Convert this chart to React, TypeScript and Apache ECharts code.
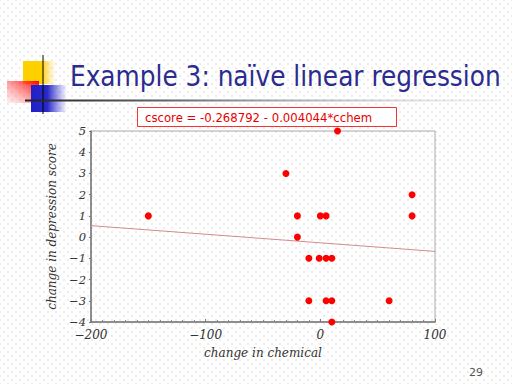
import React, { useEffect, useRef } from "react";
import * as echarts from "echarts";

const titleText = "Example 3: naïve linear regression";
const equationText = "cscore = -0.268792 - 0.004044*cchem";
const xAxisName = "change in chemical";
const yAxisName = "change in depression score";
const pageNumber = "29";

const chemChange = [15, -30, -20, 0, 5, 80, 80, -20, -10, -1, 5, 10, -10, 5, 10, 60, 10, -150];
const scoreChange = [5, 3, 1, 1, 1, 2, 1, 0, -1, -1, -1, -1, -3, -3, -3, -3, -4, 1];

const fitX = [-200, 100];
const fitY = [0.54, -0.673];

const xTicks = [-200, -100, 0, 100];
const yTicks = [-4, -3, -2, -1, 0, 1, 2, 3, 4, 5];

const fmt = (v: number) => (v < 0 ? "\u2212" + Math.abs(v) : String(v));

export default function App() {
  const ref = useRef<HTMLDivElement>(null);
  useEffect(() => {
    if (!ref.current) return;
    const chart = echarts.init(ref.current, undefined, { renderer: "svg" });
    const points = chemChange.map((x, i) => [x, scoreChange[i]]);
    const line = fitX.map((x, i) => [x, fitY[i]]);
    chart.setOption({
      animation: false,
      backgroundColor: "transparent",
      grid: {
        left: 91,
        right: 77,
        top: 131,
        bottom: 62,
        show: true,
        borderColor: "#a8a8a8",
        borderWidth: 1,
        backgroundColor: "transparent",
      },
      xAxis: {
        type: "value",
        min: xTicks[0],
        max: xTicks[xTicks.length - 1],
        interval: 100,
        name: xAxisName,
        nameLocation: "middle",
        nameGap: 25,
        nameTextStyle: {
          fontFamily: "DejaVu Serif",
          fontStyle: "italic",
          fontSize: 12,
          color: "#333",
        },
        axisLine: { show: true, onZero: false, lineStyle: { color: "#777", width: 1.5 } },
        axisTick: { show: true, inside: true, length: 3, lineStyle: { color: "#777" } },
        minorTick: { show: true, splitNumber: 10, length: 2, lineStyle: { color: "#888" } },
        splitLine: { show: false },
        axisLabel: {
          formatter: fmt,
          fontFamily: "DejaVu Serif",
          fontStyle: "italic",
          fontSize: 12,
          color: "#333",
          margin: 7,
        },
      },
      yAxis: {
        type: "value",
        min: yTicks[0],
        max: yTicks[yTicks.length - 1],
        interval: 1,
        name: yAxisName,
        nameLocation: "middle",
        nameGap: 33,
        nameRotate: 90,
        nameTextStyle: {
          fontFamily: "DejaVu Serif",
          fontStyle: "italic",
          fontSize: 12,
          color: "#333",
        },
        axisLine: { show: true, onZero: false, lineStyle: { color: "#777", width: 1.5 } },
        axisTick: { show: true, inside: false, length: 2, lineStyle: { color: "#777" } },
        splitLine: { show: false },
        axisLabel: {
          formatter: fmt,
          fontFamily: "DejaVu Serif",
          fontStyle: "italic",
          fontSize: 11.5,
          color: "#333",
          margin: 5,
        },
      },
      series: [
        {
          type: "line",
          data: line,
          symbol: "none",
          lineStyle: { color: "#d48a8a", width: 1 },
          z: 2,
        },
        {
          type: "scatter",
          data: points,
          symbol: "circle",
          symbolSize: 7,
          itemStyle: { color: "#ff0000", opacity: 1 },
          z: 3,
        },
      ],
      graphic: [
        {
          type: "rect",
          shape: { x: 23, y: 61, width: 32, height: 23 },
          style: {
            fill: new echarts.graphic.LinearGradient(0, 0, 1, 0, [
              { offset: 0, color: "#ffd000" },
              { offset: 0.6, color: "#ffd000" },
              { offset: 1, color: "rgba(255,220,120,0.1)" },
            ]),
          },
          z: 1,
        },
        {
          type: "rect",
          shape: { x: 7, y: 81, width: 32, height: 22 },
          style: {
            fill: new echarts.graphic.LinearGradient(1, 0, 0, 1, [
              { offset: 0, color: "#ff0000" },
              { offset: 1, color: "rgba(255,150,150,0.15)" },
            ]),
          },
          z: 2,
        },
        {
          type: "rect",
          shape: { x: 31, y: 85, width: 36, height: 27 },
          style: {
            fill: new echarts.graphic.LinearGradient(0, 0, 1, 0, [
              { offset: 0, color: "#2020c8" },
              { offset: 0.45, color: "#2828c8" },
              { offset: 1, color: "rgba(60,60,220,0)" },
            ]),
          },
          z: 3,
        },
        {
          type: "line",
          shape: { x1: 43, y1: 55, x2: 43, y2: 114 },
          style: { stroke: "#000", lineWidth: 1 },
          z: 4,
        },
        {
          type: "rect",
          shape: { x: 25, y: 99.5, width: 475, height: 2 },
          style: {
            fill: new echarts.graphic.LinearGradient(0, 0, 1, 0, [
              { offset: 0, color: "#222" },
              { offset: 0.3, color: "#666" },
              { offset: 1, color: "rgba(200,200,200,0.2)" },
            ]),
          },
          z: 4,
        },
        {
          type: "text",
          x: 70,
          y: 90,
          style: {
            text: titleText,
            fill: "#2b2b90",
            font: "27.6px 'DejaVu Sans Condensed'",
            textVerticalAlign: "bottom",
            textBaseline: "bottom",
          },
          z: 5,
        },
        {
          type: "rect",
          shape: { x: 137.5, y: 107.5, width: 259, height: 19 },
          style: { fill: "#fff", stroke: "#ff3030", lineWidth: 1 },
          z: 5,
        },
        {
          type: "text",
          x: 145,
          y: 117,
          style: {
            text: equationText,
            fill: "#e80000",
            font: "13px 'DejaVu Sans Condensed'",
            textVerticalAlign: "middle",
            textBaseline: "middle",
          },
          z: 6,
        },
        {
          type: "text",
          x: 476,
          y: 372,
          style: {
            text: pageNumber,
            fill: "#555",
            font: "11px 'DejaVu Sans'",
            textAlign: "center",
            textVerticalAlign: "middle",
            textBaseline: "middle",
          },
          z: 6,
        },
      ],
    });
    return () => chart.dispose();
  }, []);
  return (
    <div
      ref={ref}
      style={{
        position: "absolute",
        left: 0,
        top: 0,
        width: 512,
        height: 384,
        backgroundColor: "#fff",
        backgroundImage:
          "radial-gradient(#e2e2e2 0.6px, transparent 0.9px), radial-gradient(#e2e2e2 0.6px, transparent 0.9px)",
        backgroundSize: "8px 8px, 8px 8px",
        backgroundPosition: "0 0, 4px 4px",
      }}
    />
  );
}
